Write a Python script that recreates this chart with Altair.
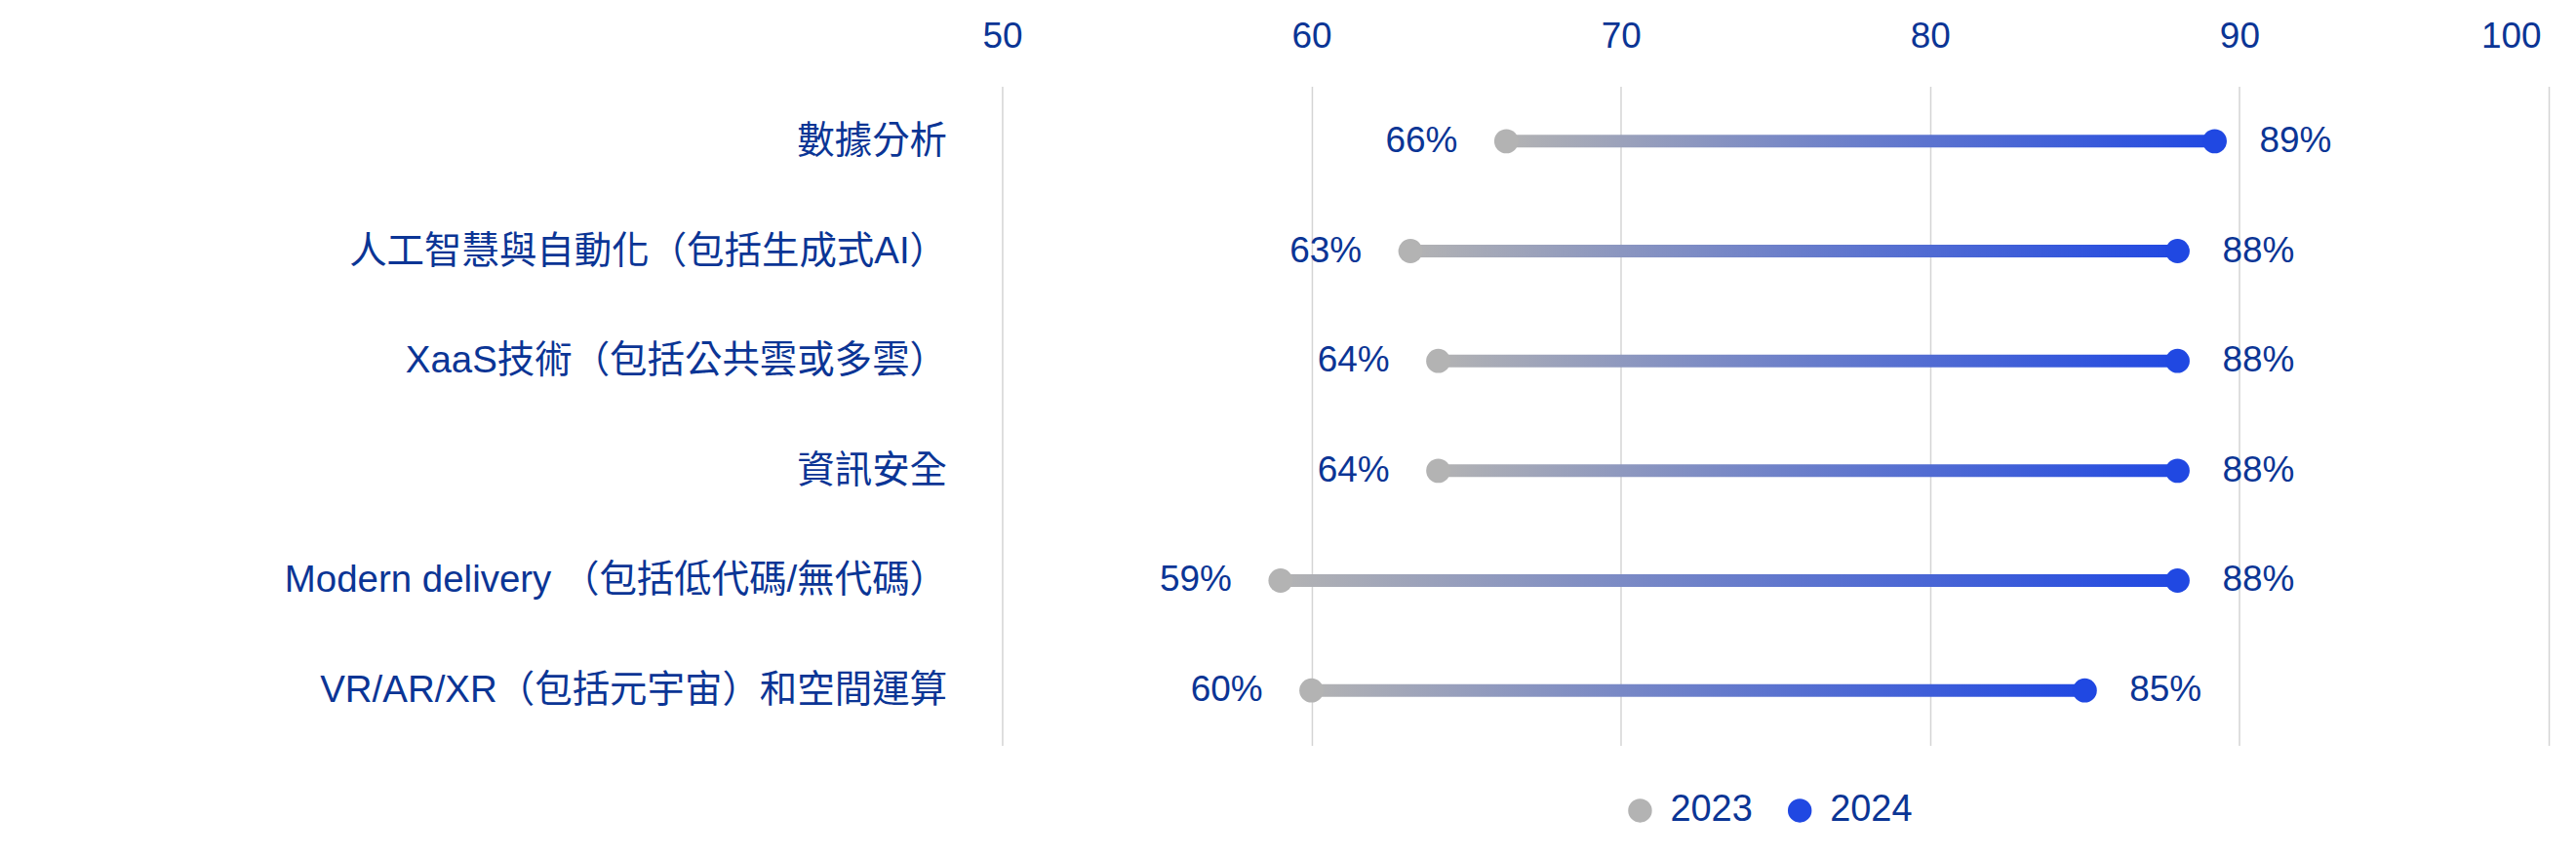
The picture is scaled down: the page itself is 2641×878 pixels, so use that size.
import altair as alt
import pandas as pd

CATEGORIES = [
    "數據分析",
    "人工智慧與自動化（包括生成式AI）",
    "XaaS技術（包括公共雲或多雲）",
    "資訊安全",
    "Modern delivery （包括低代碼/無代碼）",
    "VR/AR/XR（包括元宇宙）和空間運算",
]
VALUES_2023 = [66.3, 63.2, 64.1, 64.1, 59.0, 60.0]
VALUES_2024 = [89.2, 88.0, 88.0, 88.0, 88.0, 85.0]
YEARS = ["2023", "2024"]
X_TICKS = [50, 60, 70, 80, 90, 100]

GRAY = "#b3b3b3"
BLUE = "#2048e2"
TEXT = "#0b3595"
FONT = "Liberation Sans, Noto Sans CJK TC, sans-serif"

wide = pd.DataFrame({"category": CATEGORIES, "v2023": VALUES_2023, "v2024": VALUES_2024})
long = pd.concat([
    pd.DataFrame({"category": CATEGORIES, "year": YEARS[0], "value": VALUES_2023}),
    pd.DataFrame({"category": CATEGORIES, "year": YEARS[1], "value": VALUES_2024}),
])

x_scale = alt.Scale(domain=[50, 100], nice=False, zero=False)
y_enc = alt.Y(
    "category:N",
    sort=CATEGORIES,
    title=None,
    axis=alt.Axis(
        labelFontSize=38.5, labelColor=TEXT, labelFont=FONT, labelPadding=57,
        ticks=False, tickSize=0, domain=False, grid=False, labelLimit=1200,
    ),
)

gradient = alt.Gradient(
    gradient="linear",
    stops=[alt.GradientStop(color=GRAY, offset=0), alt.GradientStop(color=BLUE, offset=1)],
    x1=0, x2=1, y1=0, y2=0,
)

bars = alt.Chart(wide).mark_bar(size=13, color=gradient).encode(
    x=alt.X(
        "v2023:Q", scale=x_scale, title=None,
        axis=alt.Axis(
            orient="top", values=X_TICKS, labelFontSize=37, labelColor=TEXT, labelFont=FONT,
            labelPadding=32, ticks=False, tickSize=0, domain=False, grid=True,
            gridColor="#d4d4d4", gridWidth=1.5, labelFlush=False,
            labelAlign={"condition": {"test": "datum.value == 100", "value": "right"}, "value": "center"},
            labelOffset={"condition": {"test": "datum.value == 100", "value": -8}, "value": 0},
        ),
    ),
    x2="v2024:Q",
    y=y_enc,
)

points = alt.Chart(long).mark_circle(size=620, opacity=1).encode(
    x=alt.X("value:Q", scale=x_scale),
    y=alt.Y("category:N", sort=CATEGORIES),
    color=alt.Color(
        "year:N",
        scale=alt.Scale(domain=YEARS, range=[GRAY, BLUE]),
        legend=alt.Legend(
            title=None, orient="none", direction="horizontal", legendX=636, legendY=725,
            symbolType="circle", symbolSize=600, symbolStrokeWidth=0, symbolOpacity=1,
            labelFontSize=38, labelColor=TEXT, labelFont=FONT, labelOffset=12,
            columnPadding=29, padding=0,
        ),
    ),
)

labels_2023 = alt.Chart(long).transform_filter(alt.datum.year == "2023").transform_calculate(
    label="format(datum.value, '.0f') + '%'"
).mark_text(
    align="right", baseline="middle", dx=-50, fontSize=37, color=TEXT, font=FONT
).encode(
    x=alt.X("value:Q", scale=x_scale),
    y=alt.Y("category:N", sort=CATEGORIES),
    text=alt.Text("label:N"),
)

labels_2024 = alt.Chart(long).transform_filter(alt.datum.year == "2024").transform_calculate(
    label="format(datum.value, '.0f') + '%'"
).mark_text(
    align="left", baseline="middle", dx=46, fontSize=37, color=TEXT, font=FONT
).encode(
    x=alt.X("value:Q", scale=x_scale),
    y=alt.Y("category:N", sort=CATEGORIES),
    text=alt.Text("label:N"),
)

chart = alt.layer(bars, points, labels_2023, labels_2024).properties(
    width=1588,
    height=677,
    autosize=alt.AutoSizeParams(type="none"),
    padding={"left": 1021, "top": 80, "right": 20, "bottom": 100},
).configure(font=FONT).configure_view(stroke=None)

chart.save("out.html", embed_options={"renderer": "svg", "actions": False})
